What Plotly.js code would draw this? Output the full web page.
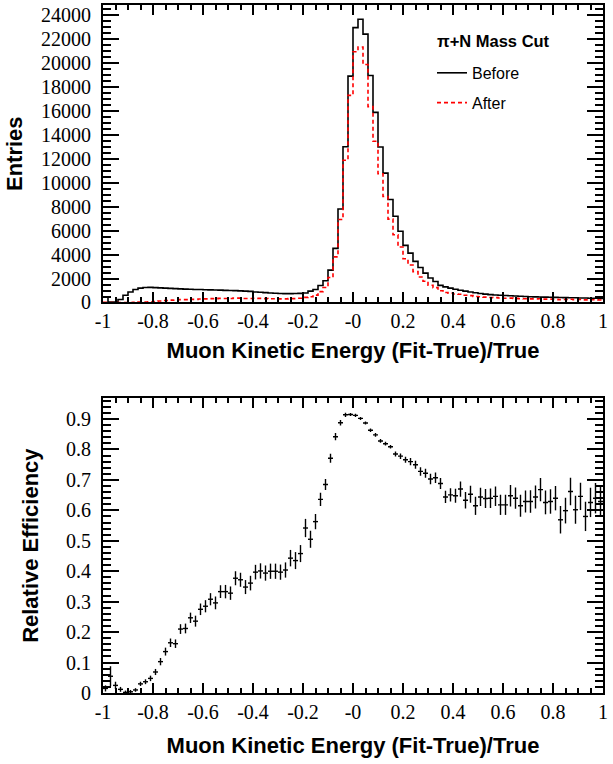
<!DOCTYPE html>
<html><head><meta charset="utf-8">
<script src="https://cdn.plot.ly/plotly-3.0.1.min.js"></script>
<style>
html,body{margin:0;padding:0;background:#fff}
#chart{width:613px;height:764px}
</style>
</head><body><div id="chart"></div>
<script>
// Histogram binning: 100 bins from -1 to 1
const binLow = -1;
const binWidth = 0.02;
const nBins = 100;

// Entries before the pi+N mass cut
const before = [
  450, 30, 30, 250, 600, 870, 1080, 1200, 1250, 1260,
  1240, 1220, 1200, 1180, 1160, 1140, 1120, 1110, 1090, 1080,
  1060, 1050, 1040, 1030, 1010, 1000, 990, 970, 950, 930,
  880, 850, 820, 790, 770, 750, 740, 740, 750, 760,
  790, 950, 1090, 1420, 1820, 2700, 4520, 7800, 13000, 18900,
  22950, 23650, 22400, 18950, 15870, 12980, 10800, 8600, 7200, 5950,
  4770, 4120, 3430, 2920, 2450, 2050, 1750, 1430, 1300, 1200,
  1100, 1020, 950, 880, 810, 750, 700, 660, 630, 600,
  580, 560, 540, 520, 500, 480, 470, 460, 450, 440,
  430, 420, 410, 400, 390, 380, 370, 360, 350, 340
];

// Entries after the pi+N mass cut
const after = [
  7, 2, 1, 3, 1, 3, 10, 36, 46, 60,
  86, 126, 163, 195, 188, 240, 237, 274, 257, 297,
  302, 323, 308, 343, 336, 328, 373, 361, 331, 336,
  349, 341, 323, 316, 308, 298, 299, 328, 326, 348,
  430, 480, 614, 903, 1247, 2082, 3806, 6926, 11880, 17290,
  20930, 21330, 19870, 16350, 13460, 10750, 8845, 6957, 5652, 4629,
  3654, 3131, 2573, 2126, 1769, 1441, 1237, 984, 837, 781,
  713, 683, 601, 575, 498, 483, 447, 422, 407, 371,
  358, 363, 346, 320, 315, 302, 303, 307, 282, 277,
  275, 239, 246, 265, 235, 245, 215, 225, 224, 214
];

// Relative efficiency per bin and its uncertainty
const efficiency = [
  0.015, 0.055, 0.025, 0.012, 0.002, 0.004, 0.010, 0.030, 0.037, 0.048,
  0.069, 0.103, 0.136, 0.165, 0.162, 0.210, 0.212, 0.247, 0.236, 0.275,
  0.285, 0.308, 0.296, 0.333, 0.333, 0.328, 0.377, 0.372, 0.348, 0.361,
  0.397, 0.401, 0.394, 0.400, 0.400, 0.397, 0.404, 0.443, 0.435, 0.458,
  0.542, 0.505, 0.563, 0.636, 0.685, 0.771, 0.842, 0.888, 0.914, 0.915,
  0.912, 0.902, 0.887, 0.863, 0.848, 0.828, 0.819, 0.809, 0.785, 0.778,
  0.766, 0.760, 0.750, 0.728, 0.722, 0.703, 0.707, 0.688, 0.644, 0.651,
  0.648, 0.670, 0.633, 0.653, 0.615, 0.644, 0.639, 0.640, 0.646, 0.618,
  0.618, 0.648, 0.640, 0.615, 0.629, 0.629, 0.644, 0.668, 0.626, 0.629,
  0.640, 0.569, 0.599, 0.662, 0.602, 0.646, 0.580, 0.626, 0.640, 0.629
];
const efficiencyErr = [
  0.010, 0.033, 0.012, 0.008, 0.006, 0.006, 0.006, 0.007, 0.008, 0.009,
  0.010, 0.012, 0.013, 0.014, 0.014, 0.016, 0.016, 0.017, 0.018, 0.019,
  0.020, 0.020, 0.021, 0.021, 0.022, 0.022, 0.023, 0.023, 0.023, 0.024,
  0.024, 0.025, 0.025, 0.025, 0.025, 0.025, 0.025, 0.027, 0.028, 0.028,
  0.030, 0.028, 0.025, 0.022, 0.018, 0.015, 0.012, 0.009, 0.007, 0.005,
  0.005, 0.005, 0.005, 0.006, 0.006, 0.006, 0.006, 0.006, 0.008, 0.009,
  0.010, 0.012, 0.013, 0.014, 0.015, 0.017, 0.017, 0.018, 0.020, 0.022,
  0.023, 0.025, 0.027, 0.028, 0.030, 0.030, 0.031, 0.032, 0.032, 0.033,
  0.033, 0.035, 0.035, 0.036, 0.036, 0.037, 0.038, 0.038, 0.039, 0.040,
  0.040, 0.045, 0.042, 0.045, 0.046, 0.045, 0.048, 0.048, 0.050, 0.050
];

const xTickVals = [-1, -0.8, -0.6, -0.4, -0.2, 0, 0.2, 0.4, 0.6, 0.8, 1];
const xTickText = ["-1", "-0.8", "-0.6", "-0.4", "-0.2", "-0", "0.2", "0.4", "0.6", "0.8", "1"];
const seriesNames = ["Before", "After"];
const legendHeader = "\u03c0+N Mass Cut";
const xTitle = "Muon Kinetic Energy (Fit-True)/True";
const yTitleTop = "Entries";
const yTitleBottom = "Relative Efficiency";

// derived bin geometry
const edges = [];
for (let i = 0; i <= nBins; i++) edges.push(+(binLow + i * binWidth).toFixed(4));
const centers = [];
for (let i = 0; i < nBins; i++) centers.push(+(binLow + (i + 0.5) * binWidth).toFixed(4));
const stepY = arr => arr.concat([arr[arr.length - 1]]);

const xMinor = [];
for (let i = 0; i <= 40; i++) xMinor.push(+(-1 + i * 0.05).toFixed(3));

const SERIF = "Liberation Serif";
const tickFont = () => ({family: SERIF, size: 20, color: "#000"});
const titleFont = () => ({family: "Liberation Sans", size: 22, color: "#000"});
const bold = s => "<b>" + s + "</b>";

function xAxis(anchor, standoff) {
  return {
    anchor: anchor, range: [-1, 1], domain: [0, 1],
    tickmode: "array", tickvals: xTickVals, ticktext: xTickText,
    ticks: "inside", ticklen: 10, tickwidth: 1.5, tickcolor: "#000",
    minor: {tickmode: "array", tickvals: xMinor, ticks: "inside", ticklen: 5, tickwidth: 1.5, tickcolor: "#000", showgrid: false},
    showline: true, linewidth: 2, linecolor: "#000", mirror: "ticks",
    showgrid: false, zeroline: false, tickfont: tickFont(), ticklabelstandoff: 0,
    title: {text: bold(xTitle), font: titleFont(), standoff: standoff}
  };
}

const data = [
  {type: "scatter", mode: "lines", x: edges, y: stepY(before), name: seriesNames[0],
   line: {shape: "hv", color: "#000", width: 1.6}, xaxis: "x", yaxis: "y", legendgroup: "a", hoverinfo: "skip"},
  {type: "scatter", mode: "lines", x: edges, y: stepY(after), name: seriesNames[1],
   line: {shape: "hv", color: "#ff0000", width: 1.6, dash: "4px,3px"}, xaxis: "x", yaxis: "y", legendgroup: "b", hoverinfo: "skip"},
  {type: "scatter", mode: "markers", x: centers, y: efficiency, showlegend: false,
   marker: {size: 1, color: "rgba(0,0,0,0)"},
   error_x: {type: "constant", value: binWidth / 2, width: 0, thickness: 1.4, color: "#000"},
   error_y: {type: "data", array: efficiencyErr, width: 0, thickness: 1.4, color: "#000"},
   xaxis: "x2", yaxis: "y2", hoverinfo: "skip"}
];

const layout = {
  width: 613, height: 764,
  margin: {l: 103, r: 10, t: 5, b: 71},
  paper_bgcolor: "#fff", plot_bgcolor: "#fff",
  showlegend: true,
  xaxis: xAxis("y", 11),
  xaxis2: xAxis("y2", 16),
  yaxis: {
    domain: [0.5676, 1], range: [0, 24835], anchor: "x",
    tickmode: "linear", tick0: 0, dtick: 2000, tickformat: "d",
    ticks: "inside", ticklen: 16, tickwidth: 1.5, tickcolor: "#000",
    minor: {dtick: 500, ticks: "inside", ticklen: 8, tickwidth: 1.5, tickcolor: "#000", showgrid: false},
    showline: true, linewidth: 2, linecolor: "#000", mirror: "ticks",
    showgrid: false, zeroline: false, tickfont: tickFont(), ticklabelstandoff: 6,
    title: {text: bold(yTitleTop), font: titleFont(), standoff: 12}
  },
  yaxis2: {
    domain: [0, 0.4283], range: [0, 0.968], anchor: "x2",
    tickmode: "linear", tick0: 0, dtick: 0.1,
    ticks: "inside", ticklen: 16, tickwidth: 1.5, tickcolor: "#000",
    minor: {dtick: 0.02, ticks: "inside", ticklen: 8, tickwidth: 1.5, tickcolor: "#000", showgrid: false},
    showline: true, linewidth: 2, linecolor: "#000", mirror: "ticks",
    showgrid: false, zeroline: false, tickfont: tickFont(), ticklabelstandoff: 6,
    title: {text: bold(yTitleBottom), font: titleFont(), standoff: 21}
  },
  legend: {
    x: 0.658, y: 0.926, xanchor: "left", yanchor: "top",
    bgcolor: "rgba(0,0,0,0)", borderwidth: 0,
    font: {family: "Liberation Sans", size: 16, color: "#000"},
    traceorder: "grouped", tracegroupgap: 6, itemwidth: 30
  },
  annotations: [{
    text: bold(legendHeader), xref: "paper", yref: "paper", x: 0.664, y: (693 - 41) / 688,
    xanchor: "left", yanchor: "middle", showarrow: false,
    font: {family: "Liberation Sans", size: 16.5, color: "#000"}
  }]
};

function forceTickFont() {
  document.querySelectorAll("#chart .xtick text, #chart .x2tick text, #chart .ytick text, #chart .y2tick text")
    .forEach(t => t.style.setProperty("font-family", "'" + SERIF + "', serif", "important"));
}
Plotly.newPlot("chart", data, layout, {displayModeBar: false}).then(() => {
  forceTickFont();
  let n = 0;
  const timer = setInterval(() => { forceTickFont(); if (++n > 60) clearInterval(timer); }, 50);
});
</script>
</body></html>
